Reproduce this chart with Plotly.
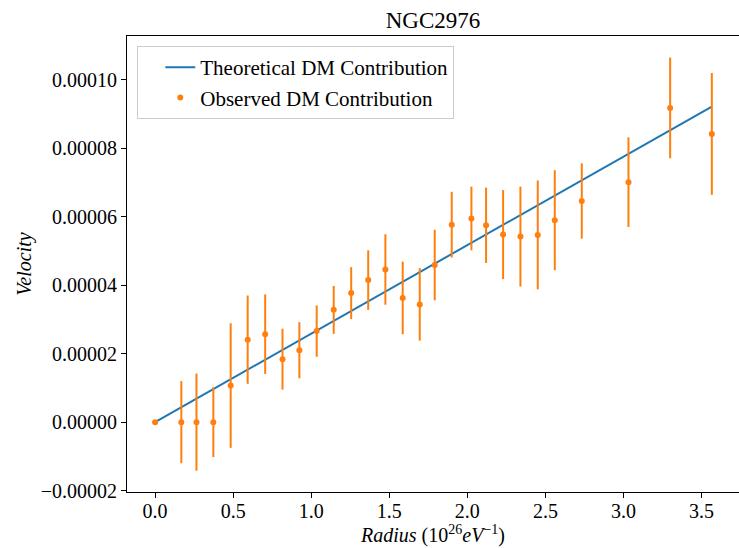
import plotly.graph_objects as go

# Galaxy NGC2976: observed dark-matter velocity contribution vs. radius
radius = [0.0, 0.168, 0.265, 0.373, 0.484, 0.593, 0.705, 0.816, 0.924, 1.035,
          1.144, 1.256, 1.365, 1.475, 1.586, 1.695, 1.791, 1.900, 2.026, 2.120,
          2.229, 2.340, 2.451, 2.560, 2.733, 3.032, 3.299, 3.566]

velocity = [0.0e-6, 0.0e-6, 0.0e-6, 0.0e-6, 10.7e-6, 24.1e-6, 25.7e-6, 18.4e-6,
            21.0e-6, 26.6e-6, 32.8e-6, 37.7e-6, 41.5e-6, 44.6e-6, 36.3e-6,
            34.4e-6, 45.9e-6, 57.7e-6, 59.5e-6, 57.5e-6, 54.8e-6, 54.2e-6,
            54.7e-6, 59.0e-6, 64.6e-6, 70.1e-6, 91.8e-6, 84.2e-6]

velocity_err = [0.0e-6, 12.0e-6, 14.2e-6, 10.2e-6, 18.2e-6, 12.9e-6, 11.6e-6,
                8.9e-6, 8.2e-6, 7.5e-6, 7.0e-6, 7.6e-6, 8.7e-6, 10.3e-6,
                10.6e-6, 10.6e-6, 10.3e-6, 9.6e-6, 9.3e-6, 11.0e-6, 13.0e-6,
                14.6e-6, 15.9e-6, 14.6e-6, 11.0e-6, 13.1e-6, 14.7e-6, 17.8e-6]

# Theoretical (linear) DM contribution, end points of the model line
theory_radius = [0.0, 3.566]
theory_velocity = [0.0, 92.2e-6]

BLUE = "#1f77b4"
ORANGE = "#ff7f0e"
FONT = "Liberation Serif"

fig = go.Figure()

fig.add_trace(go.Scatter(
    x=theory_radius, y=theory_velocity, mode="lines",
    line=dict(color=BLUE, width=2),
    name="Theoretical DM Contribution",
))

fig.add_trace(go.Scatter(
    x=radius, y=velocity, mode="markers",
    marker=dict(color=ORANGE, size=6),
    error_y=dict(type="data", array=velocity_err, visible=True,
                 color=ORANGE, thickness=2, width=0),
    name="Observed DM Contribution",
))

axis_common = dict(
    showgrid=False, zeroline=False,
    showline=True, linecolor="black", linewidth=1,
    ticks="outside", ticklen=5, tickwidth=1, tickcolor="black",
    tickfont=dict(family=FONT, size=20, color="black"),
)

fig.update_layout(
    width=739, height=548,
    margin=dict(l=127, r=0, t=36, b=56),
    paper_bgcolor="white", plot_bgcolor="white",
    font=dict(family=FONT, color="black"),
    title=dict(text="NGC2976", x=0.5, xref="paper", xanchor="center",
               y=1 - 20 / 548, yref="container", yanchor="middle",
               font=dict(family=FONT, size=23, color="black")),
    xaxis=dict(
        **axis_common, mirror=True,
        range=[-0.18, 3.74], dtick=0.5, tick0=0, tickformat=".1f",
        ticklabelstandoff=-4,
        title=dict(text="<i>Radius</i> (10<sup>26</sup><i>eV</i><sup>−1</sup>)",
                   font=dict(family=FONT, size=20, color="black"), standoff=3),
    ),
    yaxis=dict(
        **axis_common, mirror=False,
        range=[-20.4e-6, 112.8e-6], dtick=20e-6, tick0=0, tickformat=".5f",
        title=dict(text="<i>Velocity</i>",
                   font=dict(family=FONT, size=20, color="black"), standoff=3),
    ),
    legend=dict(
        x=0.0168, y=0.978, xanchor="left", yanchor="top",
        bgcolor="rgba(255,255,255,0.8)", bordercolor="#cccccc", borderwidth=1,
        font=dict(family=FONT, size=21, color="black"),
        tracegroupgap=0, indentation=22,
    ),
    showlegend=True,
)

fig.write_html("out.html")
